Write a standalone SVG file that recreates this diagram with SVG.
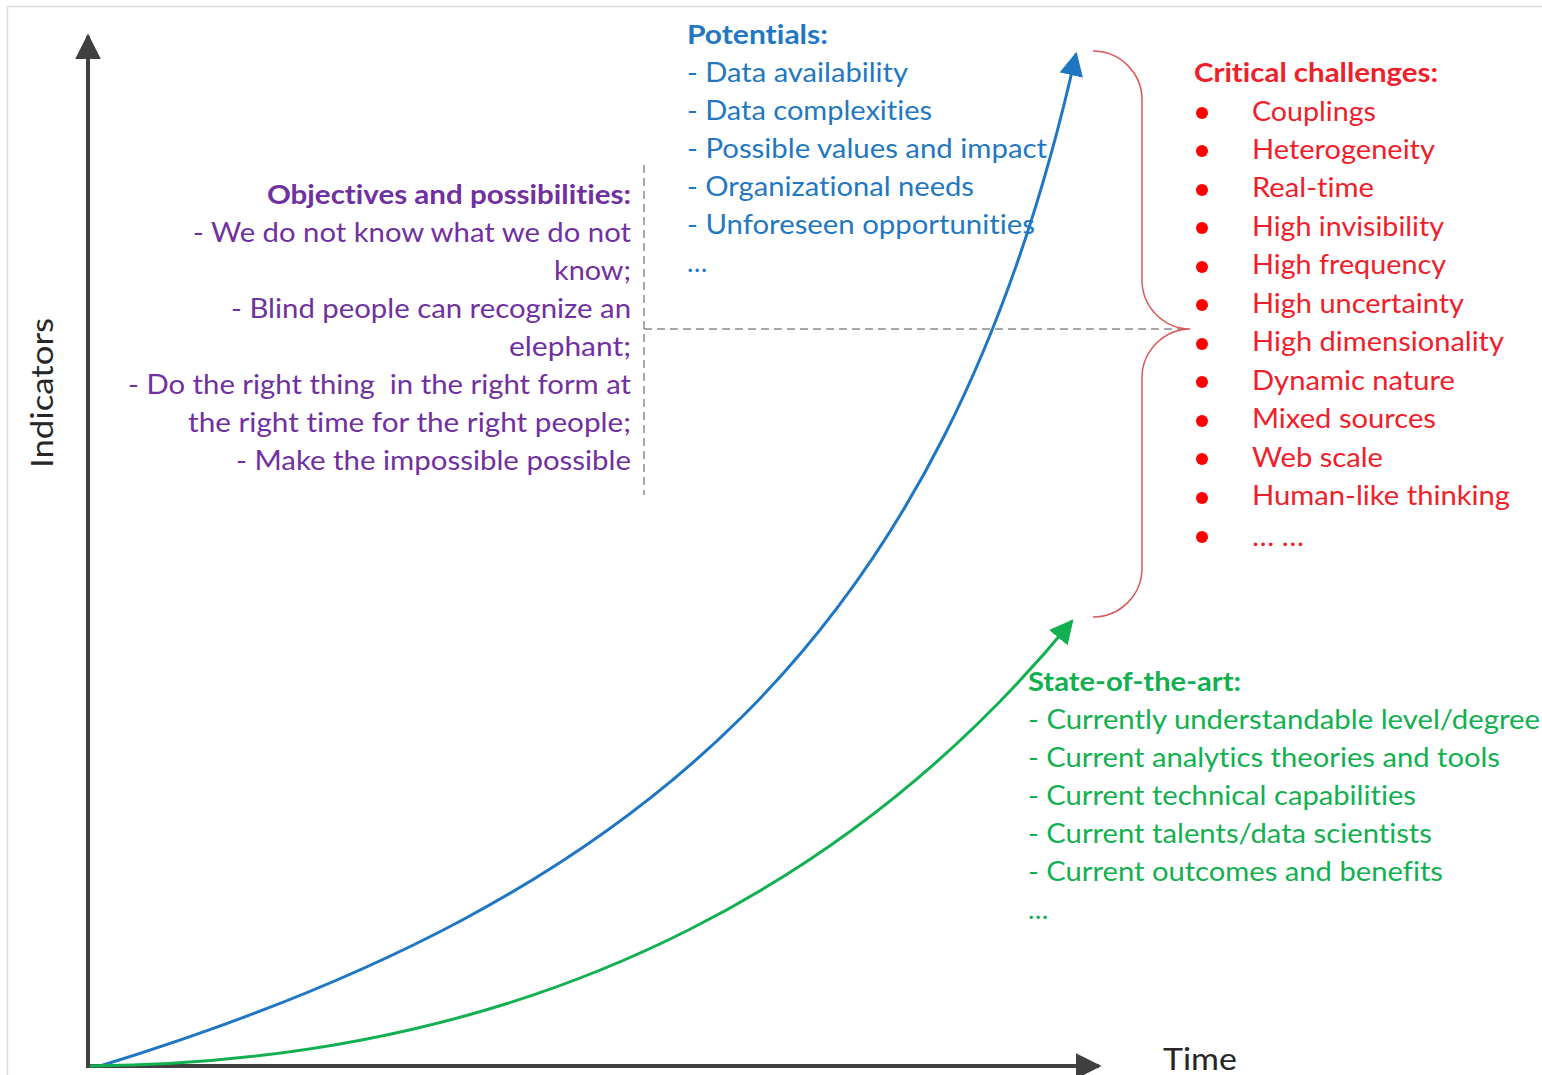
<svg xmlns="http://www.w3.org/2000/svg" width="1542" height="1075" viewBox="0 0 1542 1075">
  <style>
    text { font-family: Lato, "Liberation Sans", sans-serif; font-size: 27px; font-variant-ligatures: none; }
    .b { font-weight: bold; }
    .blue { fill: #1F78C1; }
    .purple { fill: #7030A0; }
    .red { fill: #F0202A; }
    .green { fill: #12B050; }
    .axis-label { fill: #262626; font-size: 31px; }
    .dash { stroke: #8A8A8A; stroke-width: 1.5; stroke-dasharray: 8 5; fill: none; }
  </style>
  <defs>
    <marker id="axisHead" viewBox="0 0 10 10" refX="9" refY="5" markerWidth="6.5" markerHeight="6.5" markerUnits="strokeWidth" orient="auto">
      <path d="M0,0 L10,5 L0,10 z" fill="#404040"/>
    </marker>
    <marker id="blueHead" viewBox="0 0 10 10" refX="9" refY="5" markerWidth="8" markerHeight="8" markerUnits="strokeWidth" orient="auto">
      <path d="M0,0 L10,5 L0,10 z" fill="#1F77C4"/>
    </marker>
    <marker id="greenHead" viewBox="0 0 10 10" refX="9" refY="5" markerWidth="8" markerHeight="8" markerUnits="strokeWidth" orient="auto">
      <path d="M0,0 L10,5 L0,10 z" fill="#12B050"/>
    </marker>
  </defs>

  <rect width="1542" height="1075" fill="#ffffff"/>
  <!-- frame -->
  <path d="M7.5,1075 L7.5,6.5 L1542,6.5" fill="none" stroke="#DCDCDC" stroke-width="1.5"/>

  <!-- connectors: axes, growth curves, guides, brace -->
  <g id="connectors">
    <line x1="88" y1="1066" x2="88" y2="36" stroke="#404040" stroke-width="4" marker-end="url(#axisHead)"/>
    <line x1="86" y1="1066" x2="1099" y2="1066" stroke="#404040" stroke-width="4" marker-end="url(#axisHead)"/>
    <path d="M100,1066 C640,900 945,640 1076,54" fill="none" stroke="#1F77C4" stroke-width="3" marker-end="url(#blueHead)"/>
    <path d="M90,1066 C570,1062 880,855 1072,621" fill="none" stroke="#12B050" stroke-width="3" marker-end="url(#greenHead)"/>
    <line class="dash" x1="644" y1="165" x2="644" y2="495"/>
    <line class="dash" x1="644" y1="329" x2="1188" y2="329"/>
    <path d="M1093,51 A49,49 0 0 1 1142,100 L1142,281 A49,49 0 0 0 1190,329 A49,49 0 0 0 1142,377 L1142,568 A49,49 0 0 1 1093,617" fill="none" stroke="#D9575A" stroke-width="1.5"/>
  </g>

  <g id="axis-y-label">
    <text class="axis-label" transform="translate(53,393) rotate(-90)" text-anchor="middle" textLength="150" lengthAdjust="spacingAndGlyphs">Indicators</text>
  </g>
  <g id="axis-x-label">
    <text class="axis-label" x="1163" y="1070" textLength="74" lengthAdjust="spacingAndGlyphs">Time</text>
  </g>

  <g id="potentials">
    <text class="blue b" x="687" y="44" textLength="141" lengthAdjust="spacingAndGlyphs">Potentials:</text>
    <text class="blue" x="687" y="82" textLength="221" lengthAdjust="spacingAndGlyphs">- Data availability</text>
    <text class="blue" x="687" y="120" textLength="245" lengthAdjust="spacingAndGlyphs">- Data complexities</text>
    <text class="blue" x="687" y="158" textLength="360" lengthAdjust="spacingAndGlyphs">- Possible values and impact</text>
    <text class="blue" x="687" y="196" textLength="287" lengthAdjust="spacingAndGlyphs">- Organizational needs</text>
    <text class="blue" x="687" y="234" textLength="348" lengthAdjust="spacingAndGlyphs">- Unforeseen opportunities</text>
    <text class="blue" x="687" y="272">…</text>
  </g>

  <g id="objectives">
    <text class="purple b" x="631" y="204" text-anchor="end" textLength="364" lengthAdjust="spacingAndGlyphs">Objectives and possibilities:</text>
    <text class="purple" x="631" y="242" text-anchor="end" textLength="438" lengthAdjust="spacingAndGlyphs">- We do not know what we do not</text>
    <text class="purple" x="631" y="280" text-anchor="end" textLength="77" lengthAdjust="spacingAndGlyphs">know;</text>
    <text class="purple" x="631" y="318" text-anchor="end" textLength="400" lengthAdjust="spacingAndGlyphs">- Blind people can recognize an</text>
    <text class="purple" x="631" y="356" text-anchor="end" textLength="122" lengthAdjust="spacingAndGlyphs">elephant;</text>
    <text class="purple" x="631" y="394" text-anchor="end" textLength="503" lengthAdjust="spacingAndGlyphs" xml:space="preserve">- Do the right thing  in the right form at</text>
    <text class="purple" x="631" y="432" text-anchor="end" textLength="443" lengthAdjust="spacingAndGlyphs">the right time for the right people;</text>
    <text class="purple" x="631" y="470" text-anchor="end" textLength="395" lengthAdjust="spacingAndGlyphs">- Make the impossible possible</text>
  </g>

  <g id="challenges">
    <text class="red b" x="1194" y="82" textLength="244" lengthAdjust="spacingAndGlyphs">Critical challenges:</text>
    <g fill="#FF0000">
      <circle cx="1202" cy="113" r="6"/>
      <circle cx="1202" cy="151" r="6"/>
      <circle cx="1202" cy="190" r="6"/>
      <circle cx="1202" cy="228" r="6"/>
      <circle cx="1202" cy="267" r="6"/>
      <circle cx="1202" cy="305" r="6"/>
      <circle cx="1202" cy="344" r="6"/>
      <circle cx="1202" cy="382" r="6"/>
      <circle cx="1202" cy="421" r="6"/>
      <circle cx="1202" cy="459" r="6"/>
      <circle cx="1202" cy="498" r="6"/>
      <circle cx="1202" cy="537" r="6"/>
    </g>
    <text class="red" x="1252" y="121" textLength="124" lengthAdjust="spacingAndGlyphs">Couplings</text>
    <text class="red" x="1252" y="159" textLength="183" lengthAdjust="spacingAndGlyphs">Heterogeneity</text>
    <text class="red" x="1252" y="197" textLength="122" lengthAdjust="spacingAndGlyphs">Real-time</text>
    <text class="red" x="1252" y="236" textLength="192" lengthAdjust="spacingAndGlyphs">High invisibility</text>
    <text class="red" x="1252" y="274" textLength="194" lengthAdjust="spacingAndGlyphs">High frequency</text>
    <text class="red" x="1252" y="313" textLength="212" lengthAdjust="spacingAndGlyphs">High uncertainty</text>
    <text class="red" x="1252" y="351" textLength="252" lengthAdjust="spacingAndGlyphs">High dimensionality</text>
    <text class="red" x="1252" y="390" textLength="203" lengthAdjust="spacingAndGlyphs">Dynamic nature</text>
    <text class="red" x="1252" y="428" textLength="184" lengthAdjust="spacingAndGlyphs">Mixed sources</text>
    <text class="red" x="1252" y="467" textLength="131" lengthAdjust="spacingAndGlyphs">Web scale</text>
    <text class="red" x="1252" y="505" textLength="258" lengthAdjust="spacingAndGlyphs">Human-like thinking</text>
    <text class="red" x="1252" y="546" textLength="52" lengthAdjust="spacingAndGlyphs">… …</text>
  </g>

  <g id="state-of-the-art">
    <text class="green b" x="1028" y="691" textLength="213" lengthAdjust="spacingAndGlyphs">State-of-the-art:</text>
    <text class="green" x="1028" y="729" textLength="512" lengthAdjust="spacingAndGlyphs">- Currently understandable level/degree</text>
    <text class="green" x="1028" y="767" textLength="472" lengthAdjust="spacingAndGlyphs">- Current analytics theories and tools</text>
    <text class="green" x="1028" y="805" textLength="388" lengthAdjust="spacingAndGlyphs">- Current technical capabilities</text>
    <text class="green" x="1028" y="843" textLength="404" lengthAdjust="spacingAndGlyphs">- Current talents/data scientists</text>
    <text class="green" x="1028" y="881" textLength="415" lengthAdjust="spacingAndGlyphs">- Current outcomes and benefits</text>
    <text class="green" x="1028" y="919">…</text>
  </g>
</svg>
